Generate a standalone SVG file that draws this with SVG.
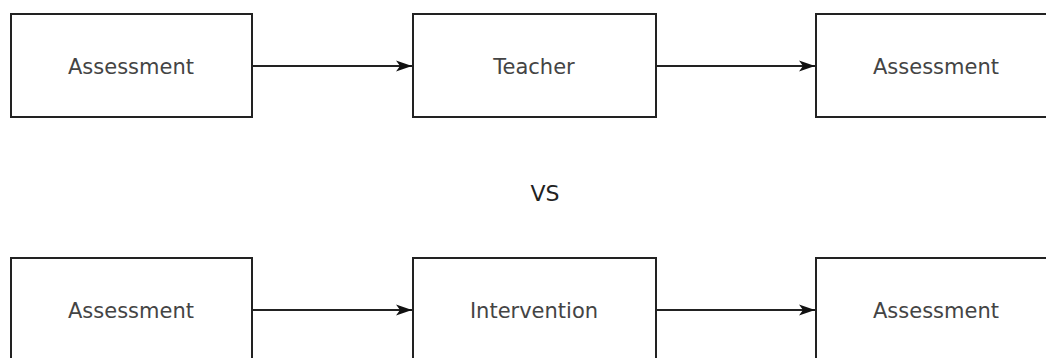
<svg xmlns="http://www.w3.org/2000/svg" width="1046" height="358" viewBox="0 0 1046 358">
  <style>
    .box { fill: #ffffff; stroke: #222222; stroke-width: 2; }
    .lbl { font-family: "DejaVu Sans", "Liberation Sans", sans-serif; font-size: 21px; fill: #444444; text-anchor: middle; }
    .vs { font-family: "DejaVu Sans", "Liberation Sans", sans-serif; font-size: 22px; fill: #222222; text-anchor: middle; }
    .edge { stroke: #222222; stroke-width: 2; fill: none; }
  </style>
  <defs>
    <marker id="arrow" markerUnits="userSpaceOnUse" markerWidth="18" markerHeight="14" refX="16" refY="7" orient="auto">
      <path d="M0,1.5 L16,7 L0,12.5 L4,7 Z" fill="#111111"/>
    </marker>
  </defs>
  <rect width="1046" height="358" fill="#ffffff"/>
  <g id="connectors">
    <line class="edge" x1="252" y1="66" x2="412" y2="66" marker-end="url(#arrow)"/>
    <line class="edge" x1="656" y1="66" x2="815" y2="66" marker-end="url(#arrow)"/>
    <line class="edge" x1="252" y1="310" x2="412" y2="310" marker-end="url(#arrow)"/>
    <line class="edge" x1="656" y1="310" x2="815" y2="310" marker-end="url(#arrow)"/>
  </g>
  <g id="n1">
    <rect class="box" x="11" y="14" width="241" height="103"/>
    <text class="lbl" x="131" y="74">Assessment</text>
  </g>
  <g id="n2">
    <rect class="box" x="413" y="14" width="243" height="103"/>
    <text class="lbl" x="534" y="74">Teacher</text>
  </g>
  <g id="n3">
    <rect class="box" x="816" y="14" width="241" height="103"/>
    <text class="lbl" x="936" y="74">Assessment</text>
  </g>
  <g id="vs">
    <text class="vs" x="545" y="201">VS</text>
  </g>
  <g id="n4">
    <rect class="box" x="11" y="258" width="241" height="103"/>
    <text class="lbl" x="131" y="318">Assessment</text>
  </g>
  <g id="n5">
    <rect class="box" x="413" y="258" width="243" height="103"/>
    <text class="lbl" x="534" y="318">Intervention</text>
  </g>
  <g id="n6">
    <rect class="box" x="816" y="258" width="241" height="103"/>
    <text class="lbl" x="936" y="318">Assessment</text>
  </g>
</svg>
